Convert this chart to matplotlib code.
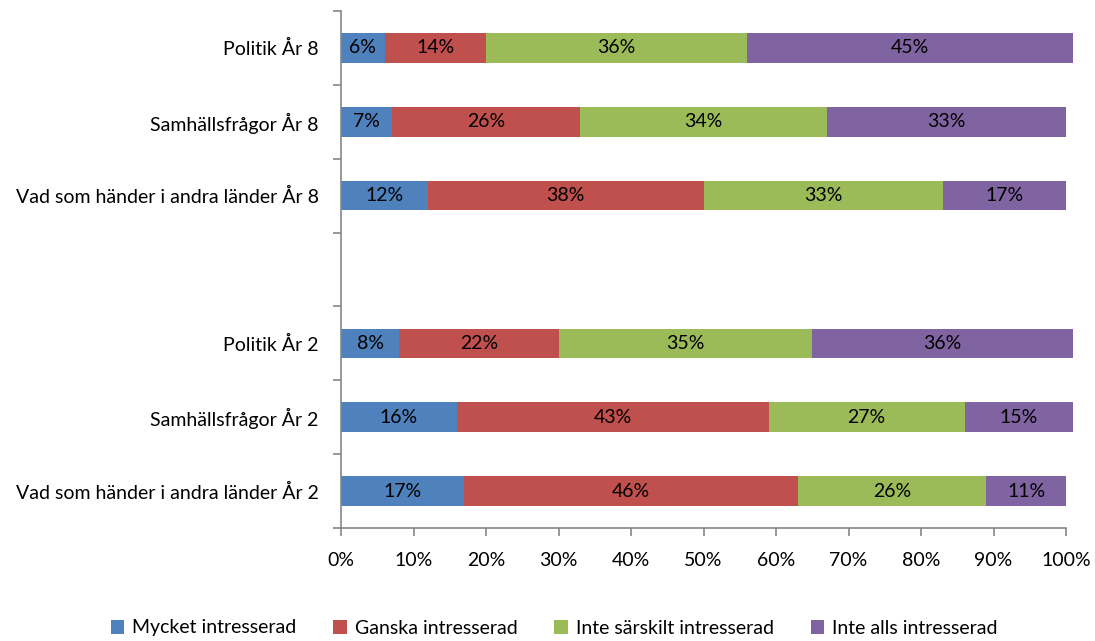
import numpy as np
import matplotlib
matplotlib.use("Agg")
import matplotlib.pyplot as plt
from matplotlib.patches import Patch

plt.rcParams['font.family'] = ['Lato', 'DejaVu Sans']

categories = ["Politik År 8", "Samhällsfrågor År 8", "Vad som händer i andra länder År 8", "",
              "Politik År 2", "Samhällsfrågor År 2", "Vad som händer i andra länder År 2"]
series_names = ["Mycket intresserad", "Ganska intresserad", "Inte särskilt intresserad", "Inte alls intresserad"]
mycket = [6, 7, 12, np.nan, 8, 16, 17]
ganska = [14, 26, 38, np.nan, 22, 43, 46]
inte_sarskilt = [36, 34, 33, np.nan, 35, 27, 26]
inte_alls = [45, 33, 17, np.nan, 36, 15, 11]
x_ticks = [0, 10, 20, 30, 40, 50, 60, 70, 80, 90, 100]
colors = ["#4F81BD", "#C0504D", "#9BBB59", "#8064A2"]

series = [mycket, ganska, inte_sarskilt, inte_alls]

fig = plt.figure(figsize=(10.95, 6.41), dpi=100)
ax = fig.add_axes([341/1095, 1-528/641, (1066-341)/1095, (528-11)/641])

fs = 14
y = np.arange(len(categories))
left = np.zeros(len(categories))
for vals, col in zip(series, colors):
    v = np.array(vals, dtype=float) / 100.0
    for i in range(len(categories)):
        if np.isnan(v[i]):
            continue
        ax.barh(y[i], v[i], left=left[i], height=0.4, color=col, edgecolor='none', clip_on=False)
        ax.text(left[i] + v[i] / 2, y[i], f"{int(round(v[i]*100))}%", ha='center', va='center',
                fontsize=fs, color='black')
        left[i] += v[i]

ax.set_xlim(0, 1)
ax.set_ylim(len(categories) - 0.5, -0.5)
ax.set_xticks([t/100 for t in x_ticks])
ax.set_xticklabels([f"{t}%" for t in x_ticks], fontsize=fs)
ax.set_yticks(y)
ax.set_yticklabels(categories, fontsize=fs)
ax.set_yticks(np.arange(-0.5, len(categories)), minor=True)
ax.tick_params(axis='y', which='major', length=0, pad=16)
ax.tick_params(axis='y', which='minor', length=6, color='#868686', width=1.2, direction='out')
ax.tick_params(axis='x', which='major', length=6, color='#868686', width=1.2, direction='out', pad=11)
for s in ['top', 'right']:
    ax.spines[s].set_visible(False)
for s in ['left', 'bottom']:
    ax.spines[s].set_color('#868686')
    ax.spines[s].set_linewidth(1.2)

handles = [Patch(facecolor=c, edgecolor='none', label=n) for c, n in zip(colors, series_names)]
fig.legend(handles=handles, loc='center', bbox_to_anchor=(554/1095, 1-628/641), ncol=4,
           frameon=False, fontsize=fs, handlelength=0.7, handleheight=0.7,
           handletextpad=0.4, columnspacing=1.9)

fig.savefig("out.png", dpi=100)
